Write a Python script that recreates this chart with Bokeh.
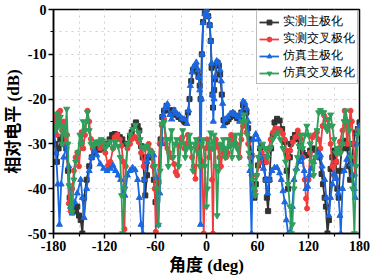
from bokeh.plotting import figure
from bokeh.models import FixedTicker, Legend, LegendItem, Range1d
from bokeh.embed import file_html
from bokeh.resources import INLINE

# ---------------- data ----------------
series_names = ["实测主极化", "实测交叉极化", "仿真主极化", "仿真交叉极化"]

meas_co_deg = [-180, -178, -176, -174, -172, -169, -167, -165, -163, -161, -158, -155, -152, -150, -148, -146,
               -144, -141, -138, -135, -132, -129, -126, -123, -120, -117, -114, -111, -108, -105, -102, -99,
               -96, -93, -90, -88, -85, -83, -81, -79, -77, -75, -73, -72, -70, -68, -66, -64, -62, -60, -58,
               -56.5, -54, -52, -50, -47, -44, -42, -39, -36, -33, -30, -27, -25, -22, -20, -18, -16, -13, -11,
               -9.5, -8, -7, -5.5, -4, -2, 0, 2, 3.7, 5, 6, 7, 7.6, 9, 10.3, 12, 13, 14.5, 16, 18, 20, 22, 24,
               26, 28, 31, 34, 36, 39, 41, 43, 45, 47, 49, 51, 53, 55, 56.5, 58, 60.5, 63, 65, 67, 69.5, 71,
               72.5, 74, 76, 78, 80, 83, 86, 89, 92, 94.5, 96, 98, 99, 101.6, 104, 106, 108, 110, 113, 116, 119,
               122, 125, 128, 131, 133, 135.4, 137, 139, 140.5, 142.3, 144, 146, 148, 150, 152, 154, 155.5, 157,
               159, 161, 163.5, 165.5, 167.5, 169, 171, 173, 175, 178, 180]
meas_co_db = [-27, -30, -34, -31, -29, -28.5, -29, -31, -36, -42, -44, -45, -44, -46, -47, -50,
              -42, -38, -35, -33, -32, -31, -31.3, -31, -30.5, -30, -29, -28, -27.8, -28, -28.5, -29,
              -30, -30, -28.5, -27.4, -26, -25.2, -26, -27, -30.5, -33, -38, -41.5, -37, -33, -32.5, -33, -38, -43, -42.5,
              -38.5, -29, -24, -22.6, -21.5, -22.5, -23, -22.5, -23.5, -24, -24.4, -24.8, -25.2, -23, -20, -16, -13.5, -12.7, -13.8,
              -15, -17, -20, -10, -2.8, -0.8, 0, -1.5, -3.5, -7, -13, -19, -21.9, -18, -15.6, -12.5, -11.9, -12.5, -14.5, -19, -24.7, -25.2, -25,
              -24.5, -24, -23.2, -23.7, -24.2, -24.7, -23, -21.4, -22, -23, -26.5, -29, -32.6, -39, -42, -39, -34.8, -31, -30.5, -33, -38, -42,
              -45, -38, -31, -28, -25.2, -24.4, -24.8, -26.7, -29.6, -36, -40, -33, -30, -28.9, -28, -28.2, -29, -30.5, -31.9, -32.6, -32.5,
              -31.5, -31, -31.3, -32, -33, -36.7, -39, -42, -44, -50, -47, -35.6, -33, -31.5, -34, -40, -42, -36,
              -31, -29.5, -29.3, -31, -35, -38, -34, -30, -27.5, -26.7, -25.2]

meas_x_deg = [-180, -178, -176, -174, -172, -170, -168, -166, -164, -162, -160, -158, -156, -154, -152, -150, -148,
              -147, -145, -143, -140, -138, -136, -134, -131, -128, -125, -122, -119, -116, -113, -110, -108, -105,
              -102, -100, -98, -96.5, -95, -93, -90, -87.5, -85, -83.6, -81, -79.8, -77, -74, -71, -68, -65.4, -63,
              -61, -59.6, -57.7, -55, -52.6, -50, -48, -46, -44, -41, -38, -36.3, -34.4, -32.4, -30, -28.5, -26, -24,
              -22, -20, -17, -15, -13, -11, -9, -7, -5, -3.3, -1, 1, 3, 5, 6.5, 7.6, 9, 11, 13, 15, 17, 19, 21, 23,
              25, 27, 29, 31, 33, 35, 37, 39, 41, 43, 45, 47.2, 49, 51, 53, 55, 57, 59, 62.7, 65, 67, 70.5, 73, 75.5,
              78.3, 81, 84, 87, 89.9, 92, 94, 96, 98.5, 101.6, 104.5, 107.4, 109.5, 111.3, 113.5, 115.5, 117.1, 118.3,
              120, 122, 124.9, 127, 129.9, 132, 134, 136.5, 138.5, 141, 144.3, 146, 148, 150, 152.5, 155, 157, 160,
              162.5, 164, 165.6, 167.5, 169.5, 171, 173, 174.5, 176, 178, 180]
meas_x_db = [-25.6, -24, -28, -23, -22.6, -27, -25, -30, -28, -43.3, -45, -40, -36, -33, -31.9, -35, -30,
             -27.4, -31, -28, -22.6, -25, -28.9, -31, -30, -29.6, -31, -30, -32, -34.8, -34, -31, -28.5, -28,
             -29, -30.4, -34, -49, -35, -31, -30, -28.9, -28.5, -28.5, -29, -29.6, -32, -35, -30.7, -30, -31.5, -35,
             -40, -49.6, -40, -30, -25.9, -24.4, -30, -31, -31.9, -33, -34.5, -36.3, -37, -30.4, -29, -28.5, -31, -30,
             -28, -30, -33, -35, -37.8, -31, -29, -30.5, -34, -50, -31, -29, -33, -31, -38, -50, -31, -29, -30.5, -33, -35, -32, -31, -33,
             -32, -29, -28, -30, -28.5, -30, -31, -33, -29, -26, -25.5, -27.4, -30, -33, -37, -41.5, -40.5, -37, -34.1, -32, -33, -34.1, -31, -29,
             -27.4, -26.5, -26.7, -27, -27.8, -29, -31.5, -33, -31.5, -29.6, -28.5, -27, -28, -28.9, -33, -38, -42.2, -44.4,
             -38, -32, -28.5, -28, -27.4, -29, -31, -26, -23.7, -24.5, -25.9, -30, -35, -37, -34, -31, -29.5, -27,
             -22.6, -26, -30, -26, -22.6, -25, -30, -37, -30, -27, -26.3]

sim_co_deg = [-180, -177, -175, -173, -171, -168, -165, -162, -160, -158, -155, -152, -148, -146, -144, -141, -138,
              -135, -132, -129, -125, -121, -117, -113, -110, -107, -104, -101, -98, -96, -93, -90, -87, -84, -81,
              -79, -77, -75, -73, -70, -67, -65, -62, -59, -57, -55, -53, -51, -49, -46, -43, -41, -38, -35, -32,
              -29, -26, -23, -21, -19, -17, -15, -12, -10, -9, -8, -7, -6, -5, -4, -2, 0, 2, 4, 5, 6, 7, 8, 9, 10,
              12, 14, 16, 17.5, 19, 20, 22, 25, 28, 31, 34, 37, 39, 41, 43, 45, 47, 49, 51, 53, 55, 58, 61, 64, 67,
              70, 72, 74, 77, 80, 83, 86, 88, 90, 92, 94, 96, 98, 101, 103, 106, 109, 112, 115, 117, 119, 121, 123,
              126, 129, 132, 134, 136, 139, 141, 144, 146, 148, 150, 153, 155, 157, 158, 160, 162, 165, 168, 170,
              172, 174, 175, 177, 178, 180]
sim_co_db = [-27, -32, -39, -48, -39, -33, -30.5, -35, -44, -45.5, -43, -41, -38, -42, -46.5, -40, -36,
             -33, -31.5, -32.5, -34.5, -35.5, -36, -35.5, -34.8, -36, -37, -38, -41, -41.5, -37, -36, -35.3, -35.8, -38,
             -42, -48, -50, -38, -34, -32.5, -32, -32.5, -37.5, -48, -41, -30, -23.5, -22, -21.1, -23.5, -24.5, -22.5, -23.2, -23.6,
             -24.3, -24.5, -25.5, -22.5, -17, -14, -12.7, -11.8, -13.5, -15, -18, -48, -20, -10, -3, -1, 0, -1.5, -3.5, -7, -12, -19, -25, -20, -15,
             -11.5, -11.8, -13.5, -16, -21, -26, -24.5, -24, -23.3, -23, -23.5, -24, -25, -23, -20.5, -20.8, -22, -25, -36, -50, -29, -27.8, -29, -33, -35.5,
             -38, -41, -38, -36, -35.3, -35.3, -36.5, -38, -40.5, -43, -47, -50, -50, -44, -38, -35.5, -34, -33, -36, -40, -39.5, -37, -35.5,
             -34, -33, -32, -32.5, -35, -38, -42, -46, -42, -39, -36.7, -37.8, -41, -46, -50, -40, -36, -33.5, -32.5, -34.5,
             -37, -40, -42, -30, -27.5, -26]

sim_x_deg = [-180, -178, -176, -174, -172, -170, -168, -166, -164.5, -163, -161.8, -159.5, -158, -156, -154, -151,
             -149, -147, -145, -143, -140, -138, -136, -133, -130, -127, -124, -121.9, -119, -116, -113, -110, -107,
             -104, -101.5, -99.9, -98.7, -96, -93, -90, -86.7, -83.6, -80, -78, -75.9, -73, -70, -67, -64, -61,
             -58.5, -56.5, -54.5, -52.6, -50, -47, -45, -43, -41, -39, -37, -35, -32.5, -30, -28, -25, -23, -20,
             -18, -16, -14, -12, -10, -8, -6, -4, -2, 0, 1, 3, 5, 7, 9, 11, 12.5, 14, 16, 18, 20, 22, 24, 26, 28,
             30, 32, 34, 36, 38, 40, 42, 44, 46, 48, 50, 52, 54, 56, 57.5, 59, 61, 63, 66, 69, 72, 75, 78, 81, 84,
             87, 90, 93, 96, 98, 100, 101, 103, 105, 107, 109, 111, 113, 116, 118, 120, 122, 124, 126, 128, 130,
             132, 134, 136, 138, 140, 142, 144, 146, 148, 150, 152, 154, 156, 158, 160, 162, 163.7, 166, 168, 170,
             172, 174, 176, 178, 180]
sim_x_db = [-25.9, -27, -23.3, -26, -24, -30, -26, -28, -22.2, -30, -39.3, -44, -45.2, -38, -34, -31.9,
            -28, -30, -25, -27, -23, -27, -30, -30.5, -29.5, -30, -29, -29.3, -31, -30, -29.5, -31, -29.5,
            -30.5, -33, -41.5, -50, -40, -30, -28, -26.7, -25.8, -27.5, -29, -30.7, -31, -30.5, -31.5, -32, -35,
            -40, -48.1, -36, -25.5, -25.2, -29, -35, -29, -27, -33, -30, -29, -35, -30, -27, -33, -31, -28,
            -31, -36, -30, -29, -32, -35, -30, -29, -35, -44, -40, -30, -27.5, -31, -28, -35, -46, -36, -30, -31, -29, -33, -31, -29, -30.5,
            -33, -30, -28, -31, -33, -28, -25, -23.5, -25, -28, -32, -35, -38, -40, -41.5, -37, -33, -31, -30, -31, -33, -31, -29, -28, -27.5,
            -29, -31, -34, -39, -44, -50, -48, -40, -36, -33, -30.5, -28, -31, -28, -26, -28, -30, -34, -37, -33, -27,
            -23, -22.5, -23, -23, -26, -27, -24.5, -23.5, -26, -29, -32, -31, -32, -32, -30, -25, -22.6, -25, -27, -33,
            -40, -50, -35, -28, -27]

x_ticks = [-180, -120, -60, 0, 60, 120, 180]
x_minor = [-150, -90, -30, 30, 90, 150]
x_labels = ["-180", "-120", "-60", "0", "60", "120", "180"]
y_ticks = [-50, -40, -30, -20, -10, 0]
y_minor = [-45, -35, -25, -15, -5]
y_labels = ["-50", "-40", "-30", "-20", "-10", "0"]

x_title = "角度 (deg)"
y_title = "相对电平 (dB)"

colors = ["#333333", "#f03c3c", "#1b67e0", "#2f9f5c"]
markers = ["square", "circle", "triangle", "inverted_triangle"]
marker_sizes = [5, 5, 6, 6]

# ---------------- figure ----------------
p = figure(width=371, height=277, x_range=Range1d(-180, 180), y_range=Range1d(-50, 0),
           output_backend="svg", toolbar_location=None,
           min_border_left=50, min_border_right=12, min_border_top=9, min_border_bottom=41)
p.background_fill_color = "white"
p.border_fill_color = "white"
p.outline_line_color = "black"
p.outline_line_width = 1.5

tick_font = "Liberation Serif"
for ax in (p.xaxis[0], p.yaxis[0]):
    ax.axis_line_color = "black"
    ax.axis_line_width = 1.5
    ax.major_tick_line_width = 1.5
    ax.minor_tick_line_width = 1.2
    ax.major_tick_in = 0
    ax.major_tick_out = 5
    ax.minor_tick_in = 0
    ax.minor_tick_out = 3
    ax.major_label_text_font = tick_font
    ax.major_label_text_font_style = "bold"
    ax.major_label_text_font_size = "14px"
    ax.major_label_text_color = "black"
    ax.major_label_standoff = 2
    ax.axis_label_text_font = "Liberation Serif, 'Noto Sans CJK SC'"
    ax.axis_label_text_font_style = "bold"
    ax.axis_label_text_font_size = "17px"
    ax.axis_label_text_color = "black"
    ax.axis_label_standoff = 2

p.xaxis.ticker = FixedTicker(ticks=x_ticks, minor_ticks=x_minor)
p.yaxis.ticker = FixedTicker(ticks=y_ticks, minor_ticks=y_minor)
p.xaxis.major_label_overrides = {t: l for t, l in zip(x_ticks, x_labels)}
p.yaxis.major_label_overrides = {t: l for t, l in zip(y_ticks, y_labels)}
p.xaxis.axis_label = x_title
p.yaxis.axis_label = y_title

for g in (p.xgrid[0], p.ygrid[0]):
    g.grid_line_color = "#cfcfcf"
    g.grid_line_dash = "dotted"
    g.grid_line_width = 1
    g.minor_grid_line_color = "#cfcfcf"
    g.minor_grid_line_dash = "dotted"
    g.minor_grid_line_width = 1
p.xgrid.ticker = FixedTicker(ticks=x_ticks, minor_ticks=x_minor)
p.ygrid.ticker = FixedTicker(ticks=y_ticks, minor_ticks=y_minor)

data = [(meas_co_deg, meas_co_db), (meas_x_deg, meas_x_db), (sim_co_deg, sim_co_db), (sim_x_deg, sim_x_db)]
items = []
for (xs, ys), name, c, m, s in zip(data, series_names, colors, markers, marker_sizes):
    r1 = p.line(xs, ys, line_color=c, line_width=1.8)
    r2 = p.scatter(xs, ys, marker=m, size=s, fill_color=c, line_color=c)
    items.append(LegendItem(label=name, renderers=[r1, r2]))

legend = Legend(items=items, location="top_right")
legend.margin = 1
legend.padding = 2
legend.spacing = 0
legend.glyph_width = 20
legend.glyph_height = 12
legend.label_height = 12
legend.label_standoff = 4
legend.label_text_font = "Liberation Serif"
legend.label_text_font_size = "12px"
legend.label_text_line_height = 0.9
legend.label_text_color = "black"
legend.border_line_color = "#777777"
legend.border_line_width = 1
legend.background_fill_color = "white"
legend.background_fill_alpha = 1.0
p.add_layout(legend)

open("out.html", "w").write(file_html(p, INLINE))
